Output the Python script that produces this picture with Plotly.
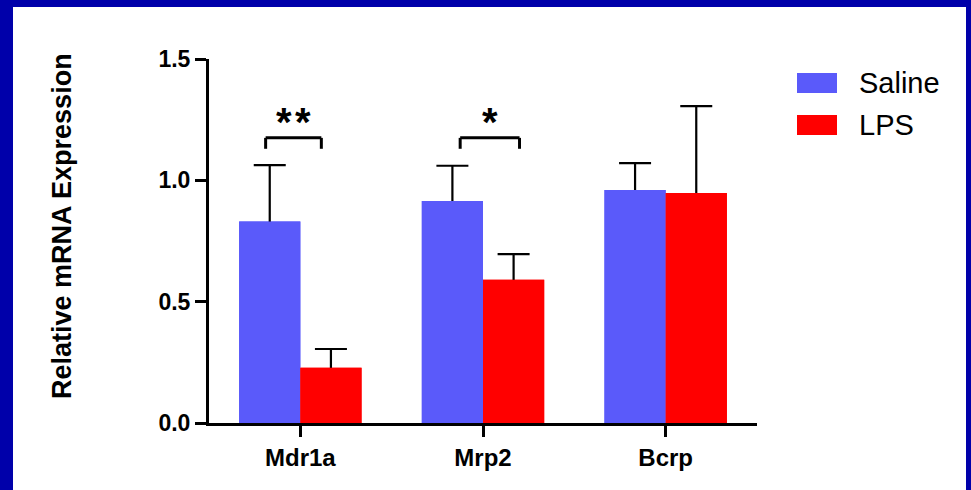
import plotly.graph_objects as go

categories = ["Mdr1a", "Mrp2", "Bcrp"]
saline = [0.83, 0.915, 0.96]
saline_err = [0.233, 0.145, 0.111]
lps = [0.228, 0.59, 0.948]
lps_err = [0.077, 0.106, 0.358]
series_names = ["Saline", "LPS"]
series_colors = ["#5A5AFA", "#FF0000"]

# significance brackets: category index, left offset, right offset, level, label
sig_index = [0, 1]
sig_left = [-0.19, -0.125]
sig_right = [0.115, 0.2]
sig_level = [1.175, 1.175]
sig_label = ["**", "*"]

W, H = 971, 490
L, R, T, B = 209, 214, 59, 67
pw, ph = W - L - R, H - T - B

def px2paper(x, y):
    return (x - L) / pw, (H - B - y) / ph

FONT = "Liberation Sans, Arial, sans-serif"
FRAME = "#0000AA"

fig = go.Figure()
series = [(series_names[0], saline, saline_err, series_colors[0], "s"),
          (series_names[1], lps, lps_err, series_colors[1], "l")]
# bars carrying the error bars (lower half later covered)
for name, vals, errs, col, og in series:
    fig.add_trace(go.Bar(
        x=categories, y=vals, name=name, offsetgroup=og,
        marker=dict(color=col, line=dict(width=0)),
        error_y=dict(type="data", array=errs, symmetric=True,
                     color="black", thickness=2.2, width=16),
        showlegend=False,
    ))
# same bars drawn again on top to hide the lower half of the error bars
for name, vals, errs, col, og in series:
    fig.add_trace(go.Bar(
        x=categories, y=vals, name=name, offsetgroup=og,
        marker=dict(color=col, line=dict(width=0)),
        showlegend=False, hoverinfo="skip",
    ))

shapes = []
# blue frame on top, left and right
for (px0, py0, px1, py1) in [(-10, -10, 981, 7), (-10, -10, 13, 520), (966, -10, 981, 520)]:
    a0, b0 = px2paper(px0, py1)
    a1, b1 = px2paper(px1, py0)
    shapes.append(dict(type="rect", xref="paper", yref="paper", x0=a0, y0=b0, x1=a1, y1=b1,
                       fillcolor=FRAME, line=dict(width=0), layer="below"))

annotations = []
for i, lo, hi, lev, lab in zip(sig_index, sig_left, sig_right, sig_level, sig_label):
    a, b = i + lo, i + hi
    leg = lev - 0.045
    for (xa, ya, xb, yb) in [(a, leg, a, lev), (a, lev, b, lev), (b, lev, b, leg)]:
        shapes.append(dict(type="line", xref="x", yref="y", x0=xa, y0=ya, x1=xb, y1=yb,
                           line=dict(color="black", width=3)))
    annotations.append(dict(x=(a + b) / 2, y=lev - 0.035, xref="x", yref="y",
                            text=lab.replace("*", "*\u200a").rstrip("\u200a"),
                            showarrow=False, yanchor="bottom",
                            font=dict(family=FONT, size=40, color="black", weight="bold")))

# custom legend
for k, (name, col) in enumerate(zip(series_names, series_colors)):
    cy = 83 + 42 * k
    sx0, sy0 = px2paper(797, cy - 10)
    sx1, sy1 = px2paper(837, cy + 10)
    shapes.append(dict(type="rect", xref="paper", yref="paper", x0=sx0, y0=sy1, x1=sx1, y1=sy0,
                       fillcolor=col, line=dict(width=0)))
    tx, ty = px2paper(857, cy)
    annotations.append(dict(x=tx, y=ty, xref="paper", yref="paper", text=name, showarrow=False,
                            xanchor="left", yanchor="middle",
                            font=dict(family=FONT, size=29, color="black")))

# y-axis title
ax_, ay_ = px2paper(62, 226)
annotations.append(dict(x=ax_, y=ay_, xref="paper", yref="paper", text="Relative mRNA Expression",
                        showarrow=False, textangle=-90, xanchor="center", yanchor="middle",
                        font=dict(family=FONT, size=27, color="black", weight="bold")))

fig.update_layout(
    width=W, height=H,
    margin=dict(l=L, r=R, t=T, b=B, pad=0),
    paper_bgcolor="white", plot_bgcolor="white",
    barmode="group", bargap=0.33, bargroupgap=0,
    shapes=shapes, annotations=annotations,
    showlegend=False,
)
fig.update_xaxes(range=[-0.5, 2.5], showline=True, linecolor="black", linewidth=3,
                 ticks="outside", ticklen=11, tickwidth=3, tickcolor="black",
                 showgrid=False, zeroline=False,
                 tickfont=dict(family=FONT, size=24, color="black", weight="bold"))
fig.update_yaxes(range=[0, 1.5], tickvals=[0, 0.5, 1.0, 1.5], ticktext=["0.0", "0.5", "1.0", "1.5"],
                 showline=True, linecolor="black", linewidth=3,
                 ticks="outside", ticklen=11, tickwidth=3, tickcolor="black",
                 showgrid=False, zeroline=False,
                 tickfont=dict(family=FONT, size=23, color="black", weight="bold"))

fig.write_html("out.html")
